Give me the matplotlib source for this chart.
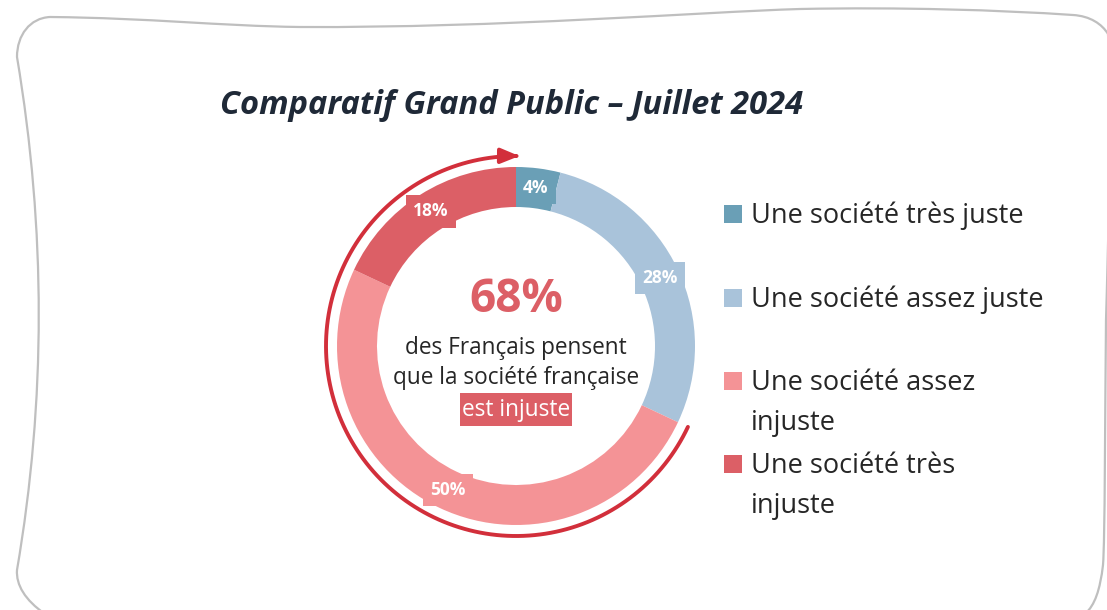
import matplotlib
matplotlib.use("Agg")
import matplotlib.pyplot as plt
import numpy as np
from matplotlib.path import Path
from matplotlib.patches import PathPatch, FancyArrowPatch, Rectangle

# ---------------- data ----------------
title = "Comparatif Grand Public – Juillet 2024"
categories = ["Une société très juste", "Une société assez juste",
              "Une société assez injuste", "Une société très injuste"]
legend_lines = [["Une société très juste"], ["Une société assez juste"],
                ["Une société assez", "injuste"], ["Une société très", "injuste"]]
values = [4, 28, 50, 18]
colors = ["#6A9FB6", "#A9C3DA", "#F49396", "#DC5F66"]
center_value = "68%"
center_lines = ["des Français pensent", "que la société française"]
center_highlight = "est injuste"

FONT = ["Open Sans", "DejaVu Sans"]
W, H = 1107, 610

fig = plt.figure(figsize=(W / 100, H / 100), dpi=100)
ax = fig.add_axes([0, 0, 1, 1])

def Y(y):  # pixel (top-down) -> data (bottom-up)
    return H - y

# ---------------- donut ----------------
cx, cy, R, width = 516, Y(346), 179, 40
wedges, texts, autotexts = ax.pie(
    values, colors=colors, startangle=90, counterclock=False,
    center=(cx, cy), radius=R, frame=True,
    wedgeprops=dict(width=width, linewidth=0),
    autopct=lambda p: f"{p:.0f}%", pctdistance=0.89,
    textprops=dict(color="white", fontsize=12.5, fontweight="bold", family=FONT))
for t, c in zip(autotexts, colors):
    t.set_bbox(dict(boxstyle="square,pad=0.42", facecolor=c, edgecolor="none"))
ax.set_xlim(0, W)
ax.set_ylim(0, H)
ax.set_aspect("equal")
ax.axis("off")

# ---------------- frame ----------------
pts = [(45, 614),
       (25, 600), (16, 585), (17, 570),
       (46, 400), (46, 230), (17, 57),
       (17, 35), (30, 18), (50, 17),
       (150, 18), (220, 26), (300, 27),
       (500, 28), (700, 12), (800, 9),
       (900, 7), (1000, 10), (1073, 15),
       (1090, 16), (1102, 24), (1108, 34),
       (1112, 120), (1108, 250), (1106, 320),
       (1105, 420), (1105, 540), (1103, 565),
       (1100, 590), (1095, 605), (1085, 614)]
codes = [Path.MOVETO] + [Path.CURVE4] * (len(pts) - 1)
frame = Path([(x, Y(y)) for x, y in pts], codes)
ax.add_patch(PathPatch(frame, fill=False, edgecolor="#BFBFBF", lw=1.6))

# ---------------- title ----------------
ax.text(512, Y(106), title, ha="center", va="center", fontsize=23.5,
        fontweight="bold", style="italic", color="#1F2937", family=FONT)

# ---------------- arrow around the "injuste" share ----------------
start_deg = 90 - 360 * (values[0] + values[1]) / 100
end_deg = 90 - 360
theta = np.radians(np.linspace(start_deg, end_deg - 1, 300))
Ra = 190
arc = Path(np.column_stack([cx + Ra * np.cos(theta), cy + Ra * np.sin(theta)]))
arrow = FancyArrowPatch(path=arc, arrowstyle="-|>,head_length=11,head_width=4.5",
                        color="#D22F3B", lw=2.8, mutation_scale=1)
ax.add_patch(arrow)

# ---------------- center text ----------------
ax.text(cx, Y(299), center_value, ha="center", va="center", fontsize=33,
        fontweight="bold", color="#DC5F66", family=FONT)
ax.text(cx, Y(348), center_lines[0], ha="center", va="center", fontsize=16.3,
        color="#262626", family=FONT)
ax.text(cx, Y(378), center_lines[1], ha="center", va="center", fontsize=16.3,
        color="#262626", family=FONT)
ax.add_patch(Rectangle((460, Y(426)), 112, 33, facecolor="#DC5F66", edgecolor="none"))
ax.text(cx, Y(410), center_highlight, ha="center", va="center", fontsize=16.3,
        color="white", family=FONT)

# ---------------- legend ----------------
sq_y = [214, 298, 381, 464]
for lines, c, yy in zip(legend_lines, colors, sq_y):
    ax.add_patch(Rectangle((724, Y(yy) - 9), 18, 18, facecolor=c, edgecolor="none"))
    for i, line in enumerate(lines):
        ax.text(751, Y(yy + 9 + 40 * i), line, ha="left", va="baseline",
                fontsize=19.5, color="#262626", family=FONT)

fig.savefig("out.png", dpi=100, facecolor="white")
